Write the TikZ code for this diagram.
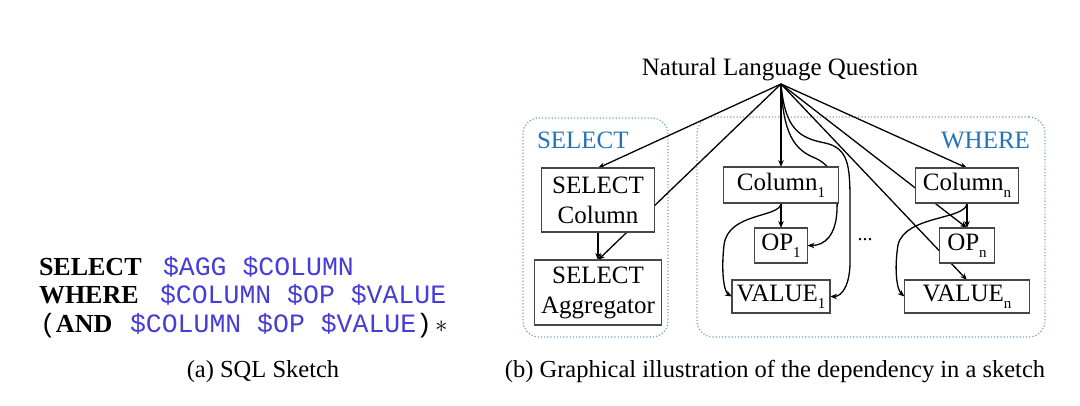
\documentclass[tikz,border=0pt]{standalone}
\usepackage{fontspec}
\setmainfont{Liberation Serif}
\setmonofont{Liberation Mono}
\usetikzlibrary{arrows.meta}
\definecolor{codeblue}{RGB}{70,60,215}
\definecolor{labelblue}{RGB}{35,115,185}
\definecolor{dotblue}{RGB}{110,160,210}
\definecolor{boxgray}{RGB}{70,70,70}
\pgfdeclarelayer{bg}\pgfdeclarelayer{mid}\pgfsetlayers{bg,mid,main}
\newcommand\sbs[1]{\raisebox{-0.28em}{\fontsize{15}{15}\selectfont #1}}
\begin{document}
\begin{tikzpicture}[x=1pt,y=-1pt,
 every node/.style={inner sep=0pt, outer sep=0pt},
 diag/.style={font=\fontsize{25}{30}\selectfont},
 blk/.style={diag, draw=boxgray, line width=1.1pt, fill=white, align=center},
 grp/.style={draw=dotblue, line width=1.2pt, dash pattern=on 1.2pt off 2pt, rounded corners=16pt},
 arr/.style={draw=black, line width=1.3pt, -{Stealth[length=7pt,width=5.5pt]}},
 kw/.style={font=\fontsize{26}{28}\selectfont\bfseries, anchor=base west},
 code/.style={font=\fontsize{26.5}{28}\selectfont\ttfamily, text=codeblue, anchor=base west},
 captxt/.style={font=\fontsize{24.5}{27}\selectfont, anchor=base},
 grplabel/.style={font=\fontsize{25}{30}\selectfont, text=labelblue}]
\useasboundingbox (0,0) rectangle (1080,405);

% groups
\begin{pgfonlayer}{bg}
\node[grp, minimum width=145, minimum height=219] (selgrp) at (595.5,227.5) {};
\node[grp, minimum width=348, minimum height=220] (whgrp) at (871,227) {};
\end{pgfonlayer}
\node[grplabel, anchor=base west] (sellab) at (537,148) {SELECT};
\node[grplabel, anchor=base east] (whlab) at (1030,148) {WHERE};

% question
\node[diag, anchor=base] (nlq) at (780,75) {Natural Language Question};
\coordinate (apex) at (781,84);

% boxes
\node[blk, minimum width=113, minimum height=64] (selcol) at (598,200) {SELECT\\Column};
\node[blk, minimum width=127, minimum height=65] (selagg) at (598,292.5) {SELECT\\Aggregator};
\node[blk, minimum width=115, minimum height=36] (col1) at (781,185) {Column\sbs{1}};
\node[blk, minimum width=53, minimum height=35] (op1) at (781,245.5) {OP\sbs{1}};
\node[blk, minimum width=98, minimum height=33] (val1) at (781,296.5) {VALUE\sbs{1}};
\node[blk, minimum width=103, minimum height=35] (coln) at (967,185.5) {Column\sbs{n}};
\node[blk, minimum width=55, minimum height=35] (opn) at (967,245.5) {OP\sbs{n}};
\node[blk, minimum width=125, minimum height=33] (valn) at (967,296.5) {VALUE\sbs{n}};
\node[font=\fontsize{20}{20}\selectfont] (dots) at (865,240) {...};

% connectors
\begin{pgfonlayer}{mid}
\draw[arr] (apex) -- (selcol.north);
\draw[arr] (apex) -- (selagg.north);
\draw[arr] (selcol.south) -- (selagg.north);
\draw[arr] (apex) -- (col1.north);
\draw[arr] (apex) .. controls (783,135) and (795,150) .. (815,158)
  .. controls (835,167) and (838,185) .. (837,210)
  .. controls (836,235) and (825,245.5) .. (op1.east);
\draw[arr] (apex) .. controls (785,130) and (800,138) .. (825,143)
  .. controls (848,148) and (850,165) .. (850,200) -- (850,262)
  .. controls (850,285) and (842,296.5) .. (val1.east);
\draw[arr] (apex) -- (coln.north);
\draw[arr] (apex) -- (opn.north);
\draw[arr] (apex) -- (valn.north);
\draw[arr] (col1.south) -- (op1.north);
\draw[arr] (col1.south) .. controls (781,218) and (728,212) .. (724,245)
  .. controls (721,272) and (724,292) .. (val1.west);
\draw[arr] (coln.south) -- (opn.north);
\draw[arr] (coln.south) .. controls (967,220) and (905,215) .. (898,245)
  .. controls (894,270) and (897,290) .. (valn.west);
\end{pgfonlayer}

% SQL sketch
\node[kw] (s1) at (39,275) {SELECT};
\node[code] (c1) at (163,275) {\$AGG \$COLUMN};
\node[kw] (s2) at (39,303) {WHERE};
\node[code] (c2) at (160,303) {\$COLUMN \$OP \$VALUE};
\node[code, text=black] (p3) at (40,332) {(};
\node[kw] (s3) at (56,332) {AND};
\node[code] (c3) at (130,332) {\$COLUMN \$OP \$VALUE};
\node[code, text=black] (q3) at (416,332) {)};
\node[font=\fontsize{26}{28}\selectfont, anchor=base west] (st3) at (435,332) {$\ast$};

% captions
\node[captxt] (capa) at (263,377) {(a) SQL Sketch};
\node[captxt] (capb) at (775,377) {(b) Graphical illustration of the dependency in a sketch};
\end{tikzpicture}
\end{document}
